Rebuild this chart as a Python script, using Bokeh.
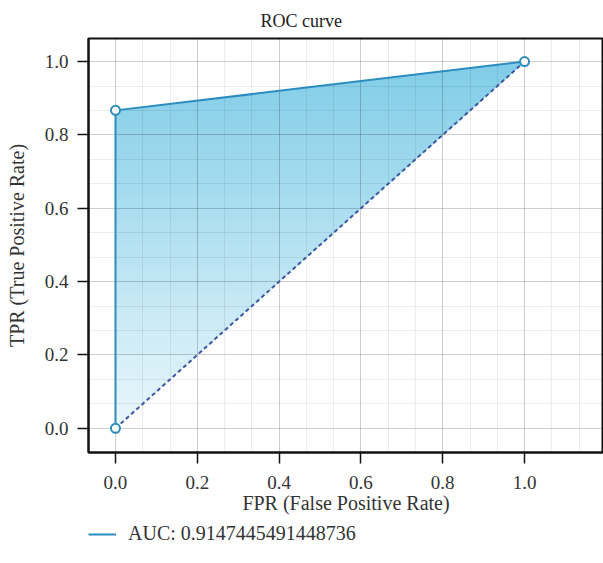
import numpy as np
from bokeh.plotting import figure
from bokeh.layouts import column, row
from bokeh.models import (Range1d, Legend, LegendItem, SingleIntervalTicker,
                          PrintfTickFormatter, Spacer)
from bokeh.embed import file_html
from bokeh.resources import INLINE

# data
fpr = [0.0, 0.0, 1.0]
tpr = [0.0, 0.867, 1.0]
diag_x = [0.0, 1.0]
diag_y = [0.0, 1.0]
auc_label = "AUC: 0.9147445491448736"

FONT = "Liberation Serif"
LINE = "#2b8cbf"
TOP_COL = (128, 204, 231)
BOT_COL = (234, 247, 252)

p = figure(width=603, height=522, output_backend="svg", toolbar_location=None,
           x_range=Range1d(-0.066, 1.193), y_range=Range1d(-0.066, 1.063),
           min_border_left=88, min_border_right=0, min_border_top=38, min_border_bottom=70)
p.title.text = "ROC curve"
p.title.align = "left"
p.title.offset = 172
p.title.standoff = 15
p.title.text_font = FONT
p.title.text_font_size = "18px"
p.title.text_font_style = "normal"
p.title.text_color = "#222222"

for ax in (p.xaxis[0], p.yaxis[0]):
    ax.ticker = SingleIntervalTicker(interval=0.2, num_minor_ticks=3)
    ax.formatter = PrintfTickFormatter(format="%.1f")
    ax.axis_line_width = 2
    ax.axis_line_color = "#111111"
    ax.major_tick_line_color = "#111111"
    ax.major_tick_line_width = 1.5
    ax.major_tick_out = 11
    ax.major_tick_in = 0
    ax.minor_tick_line_color = None
    ax.major_label_text_font = FONT
    ax.major_label_text_font_size = "19px"
    ax.major_label_text_color = "#333333"
    ax.axis_label_text_font = FONT
    ax.axis_label_text_font_size = "20px"
    ax.axis_label_text_font_style = "normal"
    ax.axis_label_text_color = "#333333"
p.xaxis.major_label_standoff = 12
p.xaxis.axis_label_standoff = 0
p.yaxis.major_label_standoff = 9
p.yaxis.axis_label_standoff = 14
p.xaxis.axis_label = "FPR (False Positive Rate)"
p.yaxis.axis_label = "TPR (True Positive Rate)"

for g in (p.xgrid[0], p.ygrid[0]):
    g.ticker = SingleIntervalTicker(interval=0.2, num_minor_ticks=3)
    g.grid_line_color = "black"
    g.grid_line_alpha = 0.13
    g.grid_line_width = 1
    g.minor_grid_line_color = "black"
    g.minor_grid_line_alpha = 0.07
    g.minor_grid_line_width = 1

p.outline_line_color = "#111111"
p.outline_line_width = 2

# area between ROC curve and diagonal
poly_x = list(fpr) + [diag_x[0]]
poly_y = list(tpr) + [diag_y[0]]


def clip_above(xs, ys, yc):
    out_x, out_y = [], []
    n = len(xs)
    for i in range(n):
        x1, y1 = xs[i], ys[i]
        x2, y2 = xs[(i + 1) % n], ys[(i + 1) % n]
        in1, in2 = y1 >= yc, y2 >= yc
        if in1:
            out_x.append(x1); out_y.append(y1)
        if in1 != in2:
            tt = (yc - y1) / (y2 - y1)
            out_x.append(x1 + tt * (x2 - x1)); out_y.append(yc)
    return out_x, out_y

ymin, ymax = min(poly_y), max(poly_y)
N = 60
xs_l, ys_l, cols = [], [], []
for k in range(N):
    yc = ymin + (ymax - ymin) * k / N
    if k == 0:
        cx, cy = poly_x, poly_y
    else:
        cx, cy = clip_above(poly_x, poly_y, yc)
    if len(cx) >= 3:
        f = (k + 0.5) / N
        c = tuple(int(round(BOT_COL[i] + (TOP_COL[i] - BOT_COL[i]) * f)) for i in range(3))
        xs_l.append(cx); ys_l.append(cy); cols.append("#%02x%02x%02x" % c)
p.patches(xs_l, ys_l, fill_color=cols, fill_alpha=1.0, line_color=None, level="image")

diag = p.line(diag_x, diag_y, line_color="#3b55a0", line_width=2, line_dash="4 3")
roc = p.line(fpr, tpr, line_color=LINE, line_width=2)
p.scatter(fpr, tpr, size=9, fill_color="white", line_color=LINE, line_width=2)

# legend strip below the chart
lf = figure(width=515, height=41, output_backend="svg", toolbar_location=None,
            x_range=Range1d(5, 6), y_range=Range1d(5, 6),
            min_border_left=0, min_border_right=0, min_border_top=0, min_border_bottom=0)
lf.axis.visible = False
lf.grid.visible = False
lf.outline_line_color = None
roc_key = lf.line(fpr, tpr, line_color=LINE, line_width=2)
legend = Legend(items=[LegendItem(label=auc_label, renderers=[roc_key])],
                location=(0, 18), orientation="vertical",
                margin=0, padding=0, glyph_width=28, glyph_height=20,
                label_height=20, label_standoff=12,
                border_line_color=None, background_fill_alpha=0,
                label_text_font=FONT, label_text_font_size="20px",
                label_text_color="#333333")
lf.add_layout(legend, "center")

layout = column(p, row(Spacer(width=88, height=41), lf, spacing=0), spacing=0)
open("out.html", "w").write(file_html(layout, INLINE))
